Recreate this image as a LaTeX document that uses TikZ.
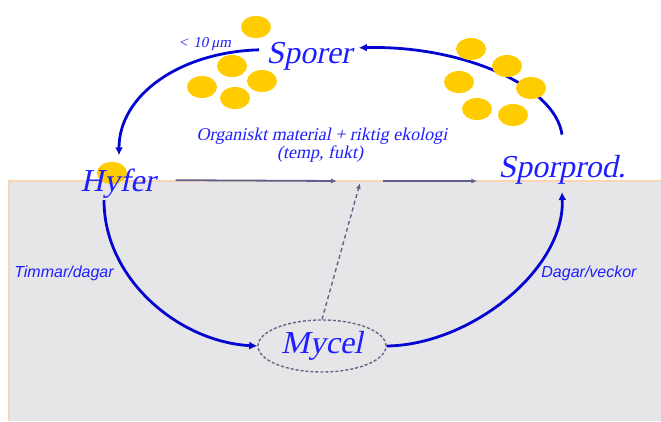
\documentclass[tikz,border=0pt]{standalone}
\usepackage{fontspec}
\setmainfont{Liberation Serif}
\newfontfamily\serifit{Liberation Serif}[FakeSlant=0.21]
\newfontfamily\arialfont{Liberation Sans}
\usetikzlibrary{arrows.meta,shapes.geometric}

\definecolor{lineblue}{RGB}{5,5,210}
\definecolor{txtblue}{RGB}{30,30,255}
\definecolor{slate}{RGB}{95,95,140}
\definecolor{dashgray}{RGB}{100,100,135}
\definecolor{sporefill}{RGB}{255,204,0}
\definecolor{groundfill}{RGB}{230,230,233}
\definecolor{groundedge}{RGB}{248,214,180}

\tikzset{
  stagelabel/.style={font=\serifit\fontsize{32}{32}\selectfont, text=txtblue, inner sep=0pt, anchor=base},
  smalltext/.style={font=\serifit\fontsize{18}{18}\selectfont, text=txtblue, inner sep=0pt, anchor=base},
  timetext/.style={font=\arialfont\fontsize{16}{16}\selectfont\itshape, text=txtblue, inner sep=0pt, anchor=base},
  cycle/.style={draw=lineblue, line width=2.8pt, -{Latex[length=8pt,width=8pt]}},
  flow/.style={draw=slate, line width=1.8pt, -{Latex[length=6pt,width=5pt]}},
  spore/.style={fill=sporefill},
}

\begin{document}
\begin{tikzpicture}[x=1pt,y=-1pt]
\useasboundingbox (0,0) rectangle (661,421);

% ground
\fill[groundfill] (9,181) rectangle (661,421);
\draw[groundedge, line width=1.5pt] (9,421) -- (9,181) -- (661,181);

% spore behind the Hyfer label
\fill[spore] (112,173) ellipse [x radius=15, y radius=11];

% stage labels
\node[stagelabel] (sporer) at (309,63) {Sporer};
\node[stagelabel] (hyfer) at (118,191) {Hyfer};
\node[stagelabel] (sporprod) at (562,177) {Sporprod.};
\node[ellipse, draw=dashgray, dashed, dash pattern=on 3pt off 2pt, line width=1.4pt,
      minimum width=128pt, minimum height=52pt, inner sep=0pt,
      font=\serifit\fontsize{32}{32}\selectfont, text=txtblue] (mycel) at (322,346) {Mycel};

\node[smalltext] (cond) at (322,140) {Organiskt material + riktig ekologi};
\node[smalltext] (cond2) at (320,158) {(temp, fukt)};
\node[font=\serifit\fontsize{15}{15}\selectfont, text=txtblue, inner sep=0pt, anchor=base] (size) at (205,47) {<\hspace{6pt}10\hspace{3pt}μm};
\node[timetext] (t1) at (64,277) {Timmar/dagar};
\node[timetext] (t2) at (589,277) {Dagar/veckor};

\coordinate (mid) at (360,181);

% life cycle
\draw[cycle] ([yshift=20pt]sporprod.north) .. controls (555,85) and (460,45) .. ([xshift=7pt,yshift=8pt]sporer.east);
\draw[cycle] ([xshift=-7pt,yshift=6pt]sporer.west) .. controls (180,52) and (119,95) .. ([xshift=1pt,yshift=13pt]hyfer.north);
\draw[cycle] ([xshift=-14pt,yshift=-2pt]hyfer.south) .. controls (104,280) and (180,342) .. (mycel.west);
\draw[cycle] (mycel.east) .. controls (470,345) and (565,270) .. ([yshift=-8pt]sporprod.south);

% development along the ground
\draw[flow] ([xshift=20pt,yshift=3pt]hyfer.east) -- ([xshift=-23pt]mid);
\draw[flow] ([xshift=23pt]mid) -- ([xshift=-21pt]mid -| sporprod.west);
\draw[draw=dashgray, line width=1.4pt, dash pattern=on 4pt off 3pt, -{Latex[length=6pt,width=5pt]}]
  (mycel.north) -- ([yshift=-2pt]mid);

% spores
\fill[spore] (256,27) ellipse [x radius=15, y radius=11];
\fill[spore] (232,66) ellipse [x radius=15, y radius=11];
\fill[spore] (202,87) ellipse [x radius=15, y radius=11];
\fill[spore] (262,81) ellipse [x radius=15, y radius=11];
\fill[spore] (235,98) ellipse [x radius=15, y radius=11];
\fill[spore] (471,49) ellipse [x radius=15, y radius=11];
\fill[spore] (507,66) ellipse [x radius=15, y radius=11];
\fill[spore] (459,82) ellipse [x radius=15, y radius=11];
\fill[spore] (531,88) ellipse [x radius=15, y radius=11];
\fill[spore] (477,109) ellipse [x radius=15, y radius=11];
\fill[spore] (513,115) ellipse [x radius=15, y radius=11];
\end{tikzpicture}
\end{document}
